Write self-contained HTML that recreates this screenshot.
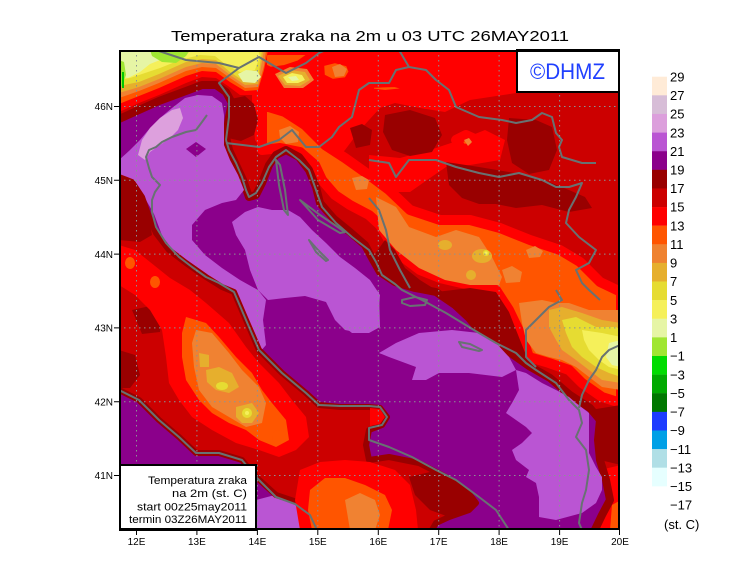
<!DOCTYPE html>
<html><head><meta charset="utf-8"><style>
html,body{margin:0;padding:0;background:#fff;}
svg{display:block;font-family:"Liberation Sans",sans-serif;}
</style></head><body>
<svg width="740" height="582" viewBox="0 0 740 582" xmlns="http://www.w3.org/2000/svg">
<rect width="740" height="582" fill="#fff"/>
<defs>
<clipPath id="c"><rect x="119" y="50" width="501" height="480"/></clipPath>
<clipPath id="s"><polygon points="110,121 119,119 139,110 159,101 186,91 202,85 216,85 226,92 232,103 229,117 226,137 229,150 236,165 243,180 249,197 256,195 262,183 269,165 276,155 286,150 299,157 309,170 316,187 320,203 334,219 350,232 365,245 372,258 380,272 395,282 415,288 436,292 455,305 469,318 479,330 496,342 512,354 529,366 550,378 570,395 590,408 600,420 598,440 600,460 606,480 610,500 602,515 590,540 110,540"/></clipPath>
</defs>
<g clip-path="url(#c)">
<rect x="119" y="50" width="501" height="480" fill="#cc0000"/>
<!-- NE land -->
<polygon fill="#ff0000" points="252,50 516,50 516,93 470,100 445,112 420,108 395,103 380,108 369,120 360,130 345,150 335,160 320,155 300,150 280,150 262,150 255,140 252,100"/>
<polygon fill="#ff0000" points="369,155 400,158 430,150 460,140 485,130 505,140 500,160 470,165 446,167 430,178 410,192 390,192 369,180"/>
<polygon fill="#990000" points="385,115 410,110 435,118 442,135 432,152 410,156 392,150 383,132"/>
<polygon fill="#990000" points="509,118 536,120 552,127 557,150 549,170 529,174 512,163 507,140"/>
<polygon fill="#990000" points="446,162 479,167 509,172 529,176 549,182 569,190 585,197 592,208 569,212 542,205 516,208 496,204 479,204 462,198 449,185"/>
<polygon fill="#990000" points="350,128 362,124 372,130 370,145 356,148"/>
<g stroke="#ff0000" stroke-width="10" stroke-linejoin="round" fill="#ff5500">
<polygon points="262,105 285,112 305,125 325,145 345,158 369,175 389,190 410,210 440,220 470,220 500,228 530,240 560,250 580,262 600,282 621,292 621,403 602,397 582,383 569,370 549,363 529,357 522,337 509,310 496,290 470,285 440,278 420,270 400,255 389,240 380,225 369,215 350,205 335,195 322,180 315,165 300,152 280,148 262,150"/>
<polygon points="262,50 312,50 310,58 300,65 285,70 270,72 262,68"/>
<polygon points="319,62 335,58 350,62 354,72 348,82 332,84 320,78"/>
<polygon points="369,83 395,82 410,86 405,93 385,95 369,93"/>
<polygon points="456,140 466,135 477,140 475,148 462,149"/>
</g>
<g fill="#f08232">
<polygon points="332,67 340,64 347,69 344,76 335,77"/>
<polygon points="279,130 290,126 299,132 298,142 286,144 280,138"/>
<polygon points="352,178 362,176 369,180 367,189 356,190"/>
<polygon points="376,197 396,207 409,227 436,237 456,230 479,237 492,257 502,277 499,285 470,285 445,280 419,268 396,250 379,230"/>
<polygon points="526,250 535,246 543,251 540,257 529,258"/>
<polygon points="502,270 512,266 522,272 520,282 506,283"/>
<polygon points="464,140 469,138 472,142 468,146"/>
<polygon points="275,74 290,67 307,69 314,80 303,88 284,88"/>
</g>
<polygon fill="#e6af2d" points="278,76 290,70 305,72 310,80 300,86 285,85"/>
<polygon fill="#f5f05a" points="283,77 292,73 302,75 305,80 298,83 287,83"/>
<polygon fill="#e6f5a5" points="288,77 296,76 299,80 292,81"/>
<ellipse cx="445" cy="245" rx="7" ry="5" fill="#e6af2d"/>
<ellipse cx="482" cy="256" rx="10" ry="7" fill="#e6af2d"/>
<ellipse cx="471" cy="275" rx="5" ry="5" fill="#e6af2d"/>
<circle cx="486" cy="253" r="3" fill="#e6dc32"/>
<circle cx="486" cy="253" r="1.5" fill="#f5f05a"/>
<!-- SE hotspot -->
<polygon fill="#f08232" points="519,303 542,300 556,303 569,303 589,310 621,310 621,390 602,387 589,377 576,367 562,360 549,357 536,353 526,340 522,323"/>
<polygon fill="#e6af2d" points="549,310 562,307 582,313 602,320 621,323 621,383 602,380 589,370 576,360 562,350 556,340 549,327"/>
<polygon fill="#e6dc32" points="562,320 576,317 596,327 616,327 621,330 621,377 609,373 596,367 582,357 572,347 566,333"/>
<polygon fill="#f5f05a" points="582,330 602,333 621,337 621,370 609,367 599,360 589,350 584,340"/>
<polygon fill="#e6f5a5" points="609,343 621,340 621,367 612,365 606,357"/>
<!-- Montenegro -->
<polygon fill="#990000" points="590,410 621,405 621,465 600,460 592,440"/>
<polygon fill="#ff0000" points="600,470 621,465 621,530 600,530 605,500"/>
<polygon fill="#ff5500" points="612,505 621,500 621,530 610,530"/>
<!-- NW Alps bands -->
<polygon fill="#ff0000" points="119,50 119,112 139,103 159,95 186,83 202,77 216,78 228,86 240,95 252,95 262,92 268,50"/>
<polygon fill="#ff5500" points="119,50 119,104 139,96 159,88 186,76 202,71 216,72 230,82 245,91 258,90 264,70 268,50"/>
<polygon fill="#f08232" points="119,50 119,98 139,91 159,83 186,71 202,67 216,68 230,78 245,88 258,87 264,66 266,50"/>
<polygon fill="#e6af2d" points="119,50 119,93 139,87 159,79 186,67 202,63 216,64 230,75 245,85 258,84 264,50"/>
<polygon fill="#e6dc32" points="119,50 119,86 139,82 159,74 186,62 202,59 216,60 230,72 245,82 258,80 262,50"/>
<polygon fill="#f5f05a" points="119,50 119,80 130,78 145,73 160,68 180,60 200,55 215,56 225,64 240,72 255,70 260,56 258,50"/>
<polygon fill="#e6f5a5" points="119,50 119,76 128,78 140,72 150,64 165,58 180,54 186,50"/>
<polygon fill="#e6f5a5" points="238,74 246,70 257,71 261,77 255,83 243,82"/>
<polygon fill="#a0e632" points="150,50 152,56 162,62 176,63 186,56 190,50"/>
<polygon fill="#a0e632" points="119,60 124,62 126,75 122,86 119,86"/>
<rect x="122" y="72" width="2" height="16" fill="#00c800"/>
<polygon fill="#990000" points="226,100 245,96 254,104 258,120 254,135 241,141 228,138 224,120"/>
<!-- coastal DR strips -->
<polygon fill="#990000" points="436,292 470,288 496,292 509,312 520,340 528,360 512,355 496,343 479,330 469,320 455,305"/>
<polygon fill="#990000" points="372,258 385,240 395,250 405,268 420,280 436,290 415,288 395,282 380,272"/>
<!-- Sea -->
<polygon fill="#8b008b" stroke="#990000" stroke-width="8" stroke-linejoin="round" points="110,121 119,119 139,110 159,101 186,91 202,85 216,85 226,92 232,103 229,117 226,137 229,150 236,165 243,180 249,197 256,195 262,183 269,165 276,155 286,150 299,157 309,170 316,187 320,203 334,219 350,232 365,245 372,258 380,272 395,282 415,288 436,292 455,305 469,318 479,330 496,342 512,354 529,366 550,378 570,395 590,408 600,420 598,440 600,460 606,480 610,500 602,515 590,540 110,540"/>
<g clip-path="url(#s)" fill="#ba55d3">
<polygon points="119,160 130,150 140,140 150,128 160,118 172,108 185,98 198,95 212,96 222,103 224,115 224,130 224,145 230,160 238,175 244,190 236,200 222,203 205,210 192,225 192,240 205,255 222,268 240,280 258,290 266,300 263,320 266,345 260,352 250,352 244,335 238,318 228,300 212,288 193,274 178,262 166,246 160,230 154,214 146,200 135,192 119,190"/>
<polygon points="232,222 245,212 258,207 272,210 288,210 300,217 312,230 326,243 340,257 355,268 370,280 380,295 378,320 372,330 360,333 345,330 335,320 326,302 305,296 285,298 268,300 258,290 250,270 245,250 236,235"/>
<polygon points="329,297 339,290 369,290 379,292 380,327 369,333 352,333 339,323 332,310"/>
<polygon points="379,353 396,343 419,333 452,330 479,333 496,343 509,357 516,370 502,377 469,373 439,373 426,380 412,380 416,367 389,357"/>
<polygon points="516,370 526,373 542,383 556,390 569,397 576,403 589,413 589,437 589,453 596,467 602,477 602,490 596,503 582,513 556,520 539,517 539,497 536,483 526,477 529,470 516,460 512,450 522,443 532,433 526,427 516,420 506,413 512,403 519,390"/>
<polygon points="256,500 275,495 300,505 310,515 305,530 256,530"/>
<polygon fill="#dda0dd" points="138,155 142,140 150,128 160,118 172,110 180,108 183,118 178,130 170,138 160,145 150,152 145,160"/>
<polygon fill="#8b008b" points="186,149 196,142 206,149 196,157"/>
</g>
<!-- Italy -->
<polygon fill="#cc0000" stroke="#990000" stroke-width="6" stroke-linejoin="round" points="110,177 119,177 132,182 142,197 149,217 156,233 169,250 186,263 206,277 222,287 234,292 246,320 259,350 282,373 306,393 319,405 340,407 369,407 380,408 387,417 382,425 369,430 366,445 369,460 389,457 419,463 446,477 466,490 476,503 469,510 449,517 436,523 429,535 319,535 318,515 306,505 276,495 256,477 242,460 219,453 196,453 179,437 159,420 139,400 119,390 110,390"/>
<polygon fill="#990000" points="119,177 132,182 142,197 149,217 152,235 140,242 119,240"/>
<polygon fill="#990000" points="132,310 150,306 162,315 160,332 142,334"/>
<polygon fill="#990000" points="119,350 135,355 140,375 130,388 119,388"/>
<polygon fill="#ff0000" points="119,245 135,250 150,262 170,278 190,290 206,303 229,323 246,347 259,363 279,383 292,400 306,417 309,437 296,450 279,457 259,450 236,443 212,430 192,417 179,400 169,383 166,357 162,330 150,310 135,295 119,285"/>
<polygon fill="#ff0000" points="370,408 380,409 385,417 380,424 370,426"/>
<polygon fill="#ff5500" points="186,317 206,323 219,337 236,357 252,373 262,390 272,403 286,420 289,440 276,447 259,440 246,430 229,423 212,413 199,400 186,380 182,357 182,333"/>
<polygon fill="#f08232" points="196,330 212,333 229,353 242,370 259,387 266,403 262,423 246,427 229,417 212,407 199,390 194,367 192,343"/>
<polygon fill="#e6af2d" points="206,370 219,367 232,373 239,387 229,393 216,390 207,382"/>
<polygon fill="#e6af2d" points="236,407 252,403 259,413 252,423 242,423 236,417"/>
<polygon fill="#e6af2d" points="199,353 209,355 209,367 200,367"/>
<ellipse cx="222" cy="386" rx="6" ry="4" fill="#e6dc32"/>
<ellipse cx="247" cy="413" rx="5" ry="5" fill="#e6dc32"/>
<circle cx="247" cy="413" r="2" fill="#f5f05a"/>
<ellipse cx="279" cy="437" rx="7" ry="7" fill="#ff5500"/>
<ellipse cx="130" cy="263" rx="5" ry="6" fill="#ff5500"/>
<ellipse cx="155" cy="282" rx="5" ry="6" fill="#ff5500"/>
<polygon fill="#ff0000" points="300,470 320,462 345,460 370,462 395,470 410,485 416,510 418,530 300,530 295,500"/>
<polygon fill="#990000" points="409,477 430,472 455,480 476,503 469,510 449,517 430,510 415,495"/>
<polygon fill="#ff5500" points="310,490 325,478 345,478 365,485 385,495 392,510 388,530 312,530 308,510"/>
<polygon fill="#f08232" points="345,500 360,493 375,500 380,515 375,530 350,530"/>
<!-- coastlines & borders -->
<g fill="none" stroke="#687272" stroke-width="2" stroke-linejoin="round">
<path d="M207,115 L202,122 196,130 186,132 172,137 162,142 156,147 149,150 146,157 149,168 152,177 160,185 155,192 152,200 152,212 156,227 166,243 179,257 192,267 206,277 219,283 234,292 246,320 259,350 282,373 306,393 319,405 340,406 369,406 380,407 387,417 382,425 369,428 369,440 389,447 412,457 436,470 456,480 479,497 496,510 509,530"/>
<path d="M119,390 L139,400 159,420 179,437 196,453 219,453 242,460 256,477 276,497 295,504 310,515 317,530"/>
<path d="M226,140 L229,150 236,163 242,177 246,190 249,197 256,193 262,183 269,167 276,157 286,150 299,160 309,170 316,190 322,207 336,223 352,237 369,250 376,262 382,275 395,284 402,290 422,300 446,313 469,327 479,333 496,343 516,353 526,363 536,370 556,383 569,400 579,410 582,423 576,437 586,450 589,470 586,490 582,503 579,523 582,530"/>
<path d="M156,50 L186,60 219,63 239,68 259,57 286,73 306,63 319,53 326,50"/>
<path d="M239,68 L219,83 229,97 229,117 226,140"/>
<path d="M226,143 L259,147 279,140 292,130 306,147 319,147 332,137 339,127 352,117 359,90 369,83 389,83 396,70 409,67 399,50"/>
<path d="M409,67 L426,70 436,80 449,90 456,107 479,117 502,120 516,123 532,120 542,113 552,117 556,133 562,140 559,147 562,157 582,163 596,163"/>
<path d="M369,160 L389,163 396,177 409,160 436,160 456,167 479,173 499,177 519,173 542,180 556,187 569,187 582,183 576,197 569,210 566,223 579,237 596,250 589,263 576,270 582,283 589,290 600,300"/>
<path d="M556,290 L562,300 549,307 536,320 526,330 526,357 536,367"/>
<path d="M620,345 L609,350 602,357 596,370 589,380 582,395 579,408"/>
<path d="M369,198 L379,210 386,230 390,250 400,270 410,288"/>
<path d="M402,300 L415,297 427,300 425,305 410,306 402,303 Z"/>
<path d="M459,342 L470,344 482,350 479,351 462,347 Z"/>
<path d="M276,160 L280,165 285,190 288,215 284,210 279,185 Z"/>
<path d="M300,200 L320,215 345,232 340,233 318,220 Z"/>
<path d="M309,240 L318,250 328,260 326,261 316,252 Z"/>
</g>
<!-- grid -->
<g stroke="#8a9494" stroke-width="1" stroke-dasharray="1.5 3.5" fill="none">
<path d="M136.5,50V530M196.9,50V530M257.4,50V530M317.8,50V530M378.3,50V530M438.7,50V530M499.1,50V530M559.6,50V530"/>
<path d="M119,106.5H620M119,180.3H620M119,254.1H620M119,327.9H620M119,401.7H620M119,475.5H620"/>
</g>
</g>
<!-- DHMZ box -->
<rect x="517" y="50" width="102" height="42" fill="#fff" stroke="#000" stroke-width="2"/>
<text x="530" y="79" font-size="22" fill="#2040ff" textLength="75" lengthAdjust="spacingAndGlyphs">©DHMZ</text>
<!-- legend box -->
<rect x="120" y="465" width="136" height="65" fill="#fff" stroke="#000" stroke-width="2"/>
<g font-size="11" fill="#000">
<text x="148" y="484" textLength="99" lengthAdjust="spacingAndGlyphs">Temperatura zraka</text>
<text x="172" y="497" textLength="75" lengthAdjust="spacingAndGlyphs">na 2m (st. C)</text>
<text x="137" y="510.5" textLength="110" lengthAdjust="spacingAndGlyphs">start 00z25may2011</text>
<text x="129" y="523" textLength="118" lengthAdjust="spacingAndGlyphs">termin 03Z26MAY2011</text>
</g>
<!-- frame -->
<rect x="120" y="51" width="499" height="478" fill="none" stroke="#000" stroke-width="2"/>
<g stroke="#000" stroke-width="1">
<path d="M114,106.5H119M114,180.3H119M114,254.1H119M114,327.9H119M114,401.7H119M114,475.5H119"/>
<path d="M136.5,530V535M196.9,530V535M257.4,530V535M317.8,530V535M378.3,530V535M438.7,530V535M499.1,530V535M559.6,530V535M619.5,530V535"/>
</g>
<g font-size="10" fill="#000" text-anchor="end">
<text x="113" y="110">46N</text>
<text x="113" y="184">45N</text>
<text x="113" y="258">44N</text>
<text x="113" y="331.5">43N</text>
<text x="113" y="405.5">42N</text>
<text x="113" y="479">41N</text>
</g>
<g font-size="10" fill="#000" text-anchor="middle">
<text x="136.5" y="545">12E</text>
<text x="196.9" y="545">13E</text>
<text x="257.4" y="545">14E</text>
<text x="317.8" y="545">15E</text>
<text x="378.3" y="545">16E</text>
<text x="438.7" y="545">17E</text>
<text x="499.1" y="545">18E</text>
<text x="559.6" y="545">19E</text>
<text x="620" y="545">20E</text>
</g>
<!-- title -->
<text x="171" y="41" font-size="15" fill="#000" textLength="398" lengthAdjust="spacingAndGlyphs">Temperatura zraka na 2m u 03 UTC 26MAY2011</text>
<!-- colorbar -->
<g>
<rect x="652" y="76.7" width="15" height="18.8" fill="#ffebd7"/>
<rect x="652" y="95.32" width="15" height="18.8" fill="#d7bdd7"/>
<rect x="652" y="113.94" width="15" height="18.8" fill="#dc9fdc"/>
<rect x="652" y="132.56" width="15" height="18.8" fill="#ba55d3"/>
<rect x="652" y="151.18" width="15" height="18.8" fill="#8b008b"/>
<rect x="652" y="169.8" width="15" height="18.8" fill="#990000"/>
<rect x="652" y="188.42" width="15" height="18.8" fill="#cc0000"/>
<rect x="652" y="207.04" width="15" height="18.8" fill="#ff0000"/>
<rect x="652" y="225.66" width="15" height="18.8" fill="#ff5500"/>
<rect x="652" y="244.28" width="15" height="18.8" fill="#ef8230"/>
<rect x="652" y="262.9" width="15" height="18.8" fill="#e6af2d"/>
<rect x="652" y="281.52" width="15" height="18.8" fill="#e6dc32"/>
<rect x="652" y="300.14" width="15" height="18.8" fill="#f5f05a"/>
<rect x="652" y="318.76" width="15" height="18.8" fill="#e6f5a5"/>
<rect x="652" y="337.38" width="15" height="18.8" fill="#a0e632"/>
<rect x="652" y="356" width="15" height="18.8" fill="#00dc00"/>
<rect x="652" y="374.62" width="15" height="18.8" fill="#00aa00"/>
<rect x="652" y="393.24" width="15" height="18.8" fill="#007800"/>
<rect x="652" y="411.86" width="15" height="18.8" fill="#1e3cff"/>
<rect x="652" y="430.48" width="15" height="18.8" fill="#00a0e6"/>
<rect x="652" y="449.1" width="15" height="18.8" fill="#b0dfe6"/>
<rect x="652" y="467.72" width="15" height="18.62" fill="#e6ffff"/>
</g>
<g font-size="13" fill="#000">
<text x="670" y="81.4">29</text>
<text x="670" y="100">27</text>
<text x="670" y="118.6">25</text>
<text x="670" y="137.3">23</text>
<text x="670" y="155.9">21</text>
<text x="670" y="174.5">19</text>
<text x="670" y="193.1">17</text>
<text x="670" y="211.7">15</text>
<text x="670" y="230.4">13</text>
<text x="670" y="249">11</text>
<text x="670" y="267.6">9</text>
<text x="670" y="286.2">7</text>
<text x="670" y="304.8">5</text>
<text x="670" y="323.5">3</text>
<text x="670" y="342.1">1</text>
<text x="670" y="360.7">−1</text>
<text x="670" y="379.3">−3</text>
<text x="670" y="397.9">−5</text>
<text x="670" y="416.6">−7</text>
<text x="670" y="435.2">−9</text>
<text x="670" y="453.8">−11</text>
<text x="670" y="472.4">−13</text>
<text x="670" y="491">−15</text>
<text x="670" y="509.7">−17</text>
<text x="664" y="529">(st. C)</text>
</g>
</svg>
</body></html>
